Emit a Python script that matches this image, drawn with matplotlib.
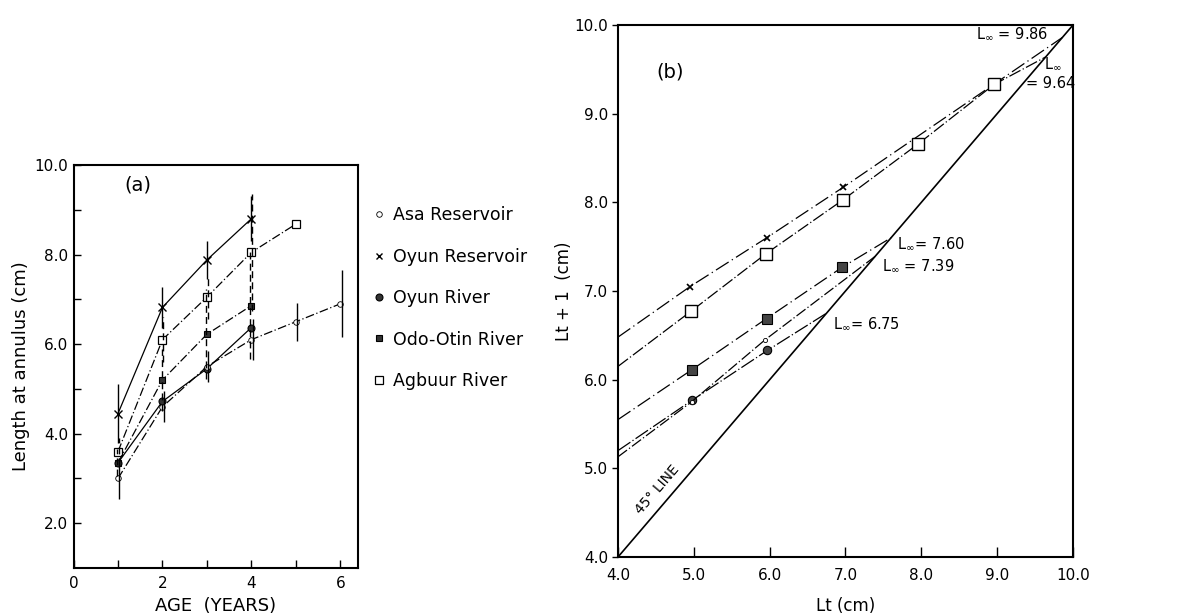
import matplotlib
matplotlib.use("Agg")
import matplotlib.pyplot as plt
from matplotlib.lines import Line2D

plt.rcParams['font.family'] = ['DejaVu Sans']

# ---------------- Panel (a): length at annulus vs age ----------------
age_asa = [1, 2, 3, 4, 5, 6]
len_asa = [3.0, 4.6, 5.5, 6.1, 6.5, 6.9]
err_asa = [0.45, 0.35, 0.35, 0.45, 0.42, 0.75]

age_oyun_res = [1, 2, 3, 4]
len_oyun_res = [4.45, 6.82, 7.88, 8.8]
err_oyun_res = [0.65, 0.45, 0.42, 0.5]

age_oyun_riv = [1, 2, 3, 4]
len_oyun_riv = [3.35, 4.72, 5.45, 6.37]

age_odo = [1, 2, 3, 4]
len_odo = [3.35, 5.2, 6.22, 6.86]
err_odo = [0.3, 0.7, 1.0, 1.2]

age_agbuur = [1, 2, 3, 4, 5]
len_agbuur = [3.6, 6.1, 7.05, 8.05, 8.68]
err_agbuur = [0.3, 0.5, 0.5, 1.3, 0.0]

legend_labels = ["Asa Reservoir", "Oyun Reservoir", "Oyun River",
                 "Odo-Otin River", "Agbuur River"]

# ---------------- Panel (b): Ford-Walford plot ----------------
lt_oyun_res = [4.95, 5.96, 6.97]
lt1_oyun_res = [7.05, 7.60, 8.17]
lt_agbuur = [4.96, 5.95, 6.97, 7.96, 8.96]
lt1_agbuur = [6.77, 7.42, 8.03, 8.66, 9.33]
lt_odo = [4.97, 5.96, 6.96]
lt1_odo = [6.11, 6.69, 7.27]
lt_oyun_riv = [4.98, 5.97]
lt1_oyun_riv = [5.77, 6.33]
lt_asa = [4.97, 5.94]
lt1_asa = [5.75, 6.45]

# line value at Lt = 4.0 and asymptotic length L-infinity for each site
start_lt = 4.0
y_start = {"oyun_res": 6.48, "agbuur": 6.15, "odo": 5.55, "oyun_riv": 5.2, "asa": 5.13}
l_inf = {"oyun_res": 9.86, "agbuur": 9.64, "odo": 7.60, "oyun_riv": 6.75, "asa": 7.39}

fig = plt.figure(figsize=(11.88, 6.15), dpi=100)
fig.patch.set_facecolor("white")

# ---------- axes (a) ----------
axa = fig.add_axes([0.0619, 0.0764, 0.2395, 0.6553])
k = "black"
dd = (0, (7, 2, 1, 2))

axa.plot(age_oyun_res, len_oyun_res, color=k, lw=0.9, marker="x", ms=6, mew=1.0)
axa.plot(age_agbuur, len_agbuur, color=k, lw=0.9, ls=dd, marker="s", ms=5.5,
         mfc="white", mew=0.9)
axa.plot(age_odo, len_odo, color=k, lw=0.9, ls=dd, marker="s", ms=5, mfc="#333333", mew=0.8)
axa.plot(age_oyun_riv, len_oyun_riv, color=k, lw=0.9, marker="o", ms=5, mfc="#333333", mew=0.8)
axa.plot(age_asa, len_asa, color=k, lw=0.9, ls=dd, marker="o", ms=4, mfc="white", mew=0.6)

axa.errorbar([a + 0.03 for a in age_asa], len_asa, yerr=err_asa, fmt="none",
             ecolor=k, elinewidth=1.0, capsize=0)
axa.errorbar(age_oyun_res, len_oyun_res, yerr=err_oyun_res, fmt="none",
             ecolor=k, elinewidth=1.0, capsize=0)
eb1 = axa.errorbar([a - 0.02 for a in age_odo], len_odo, yerr=err_odo, fmt="none",
                   ecolor=k, elinewidth=1.0, capsize=0)
eb1[2][0].set_linestyle((0, (5, 3)))
eb2 = axa.errorbar([a + 0.02 for a in age_agbuur], len_agbuur, yerr=err_agbuur, fmt="none",
                   ecolor=k, elinewidth=1.0, capsize=0)
eb2[2][0].set_linestyle((0, (5, 3)))

axa.set_xlim(0, 6.4)
axa.set_ylim(1.0, 10.0)
axa.set_xticks([0, 1, 2, 3, 4, 5, 6])
axa.set_xticklabels(["0", "", "2", "", "4", "", "6"])
axa.set_yticks([2, 3, 4, 5, 6, 7, 8, 9, 10])
axa.set_yticklabels(["2.0", "", "4.0", "", "6.0", "", "8.0", "", "10.0"])
axa.tick_params(axis="x", direction="in", length=6, width=1.0, labelsize=11, pad=6)
axa.tick_params(axis="y", direction="in", length=5, width=1.0, labelsize=11, pad=4)
for s in axa.spines.values():
    s.set_linewidth(1.5)
axa.set_xlabel("AGE  (YEARS)", fontsize=13, labelpad=4)
axa.set_ylabel("Length at annulus (cm)", fontsize=13, labelpad=3)
axa.text(1.15, 9.55, "(a)", fontsize=14, ha="left", va="center")

handles = [
    Line2D([], [], color=k, ls="none", marker="o", ms=4, mfc="white", mew=0.6),
    Line2D([], [], color=k, ls="none", marker="x", ms=5, mew=1.0),
    Line2D([], [], color=k, ls="none", marker="o", ms=5, mfc="#333333", mew=0.8),
    Line2D([], [], color=k, ls="none", marker="s", ms=5, mfc="#333333", mew=0.8),
    Line2D([], [], color=k, ls="none", marker="s", ms=6, mfc="white", mew=0.9),
]
axa.legend(handles, legend_labels, loc="upper left", bbox_to_anchor=(1.03, 0.915),
           frameon=False, fontsize=12.5, handlelength=0.6, handletextpad=0.5,
           labelspacing=1.35, borderaxespad=0)

# ---------- axes (b) ----------
axb = fig.add_axes([0.5202, 0.0943, 0.3830, 0.8650])

def series(lt, lt1, key):
    xs = [start_lt] + list(lt) + [l_inf[key]]
    ys = [y_start[key]] + list(lt1) + [l_inf[key]]
    return xs, ys

lx, ly = series(lt_oyun_res, lt1_oyun_res, "oyun_res")
axb.plot(lx, ly, color=k, lw=0.9, ls=(0, (12, 3, 1, 3)))
axb.plot(lt_oyun_res, lt1_oyun_res, ls="none", marker="x", ms=5, color=k, mew=1.2)

lx, ly = series(lt_agbuur, lt1_agbuur, "agbuur")
axb.plot(lx, ly, color=k, lw=0.9, ls=(0, (10, 2, 1, 2)))
axb.plot(lt_agbuur, lt1_agbuur, ls="none", marker="s", ms=8, mfc="white", color=k, mew=1.0)

lx, ly = series(lt_odo, lt1_odo, "odo")
axb.plot(lx, ly, color=k, lw=0.9, ls=(0, (12, 3, 1, 3)))
axb.plot(lt_odo, lt1_odo, ls="none", marker="s", ms=6.5, mfc="#444444", color=k, mew=0.8)

lx, ly = series(lt_oyun_riv, lt1_oyun_riv, "oyun_riv")
axb.plot(lx, ly, color=k, lw=0.9, ls=(0, (12, 2, 1, 2)))
axb.plot(lt_oyun_riv, lt1_oyun_riv, ls="none", marker="o", ms=6, mfc="#444444", color=k, mew=0.8)

lx, ly = series(lt_asa, lt1_asa, "asa")
axb.plot(lx, ly, color=k, lw=0.9, ls=(0, (9, 2, 1, 2)))
axb.plot(lt_asa, lt1_asa, ls="none", marker="o", ms=3, mfc="white", color=k, mew=0.6)

axb.plot([4, 10], [4, 10], color=k, lw=1.2)
axb.text(4.52, 4.76, "45° LINE", fontsize=10, rotation=45, rotation_mode="anchor",
         transform_rotates_text=True, ha="center", va="center")

axb.text(8.72, 9.9, "L$_\\infty$ = 9.86", fontsize=10.5, ha="left", va="center")
axb.text(9.62, 9.56, "L$_\\infty$", fontsize=10.5, ha="left", va="center")
axb.text(9.38, 9.34, "= 9.64", fontsize=10.5, ha="left", va="center")
axb.text(7.68, 7.53, "L$_\\infty$= 7.60", fontsize=10.5, ha="left", va="center")
axb.text(7.48, 7.29, "L$_\\infty$ = 7.39", fontsize=10.5, ha="left", va="center")
axb.text(6.84, 6.63, "L$_\\infty$= 6.75", fontsize=10.5, ha="left", va="center")
axb.text(4.5, 9.47, "(b)", fontsize=14, ha="left", va="center")

axb.set_xlim(4.0, 10.0)
axb.set_ylim(4.0, 10.0)
ticks_b = [4.0, 5.0, 6.0, 7.0, 8.0, 9.0, 10.0]
axb.set_xticks(ticks_b)
axb.set_xticklabels([f"{t:.1f}" for t in ticks_b])
axb.set_yticks(ticks_b)
axb.set_yticklabels([f"{t:.1f}" for t in ticks_b])
axb.tick_params(axis="x", direction="in", length=7, width=1.0, labelsize=11, pad=8)
axb.tick_params(axis="y", direction="out", length=4, width=1.0, labelsize=11, pad=3)
for s in axb.spines.values():
    s.set_linewidth(1.5)
axb.set_xlabel("Lt (cm)", fontsize=12, labelpad=10)
axb.set_ylabel("Lt + 1  (cm)", fontsize=12, labelpad=1)

fig.savefig("out.png", dpi=100, facecolor="white")
